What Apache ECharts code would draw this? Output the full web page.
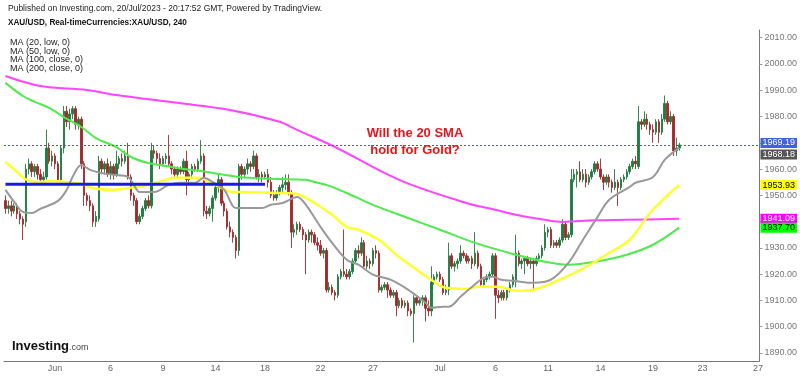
<!DOCTYPE html>
<html>
<head>
<meta charset="utf-8">
<script src="https://cdn.jsdelivr.net/npm/echarts@6/dist/echarts.min.js"></script>
<style>
html,body{margin:0;padding:0;background:#fff;}
#main{width:800px;height:376px;}
</style>
</head>
<body>
<div id="main"></div>
<script>
// trading days shown, 6 four-hour bars per day
const days = ['May 29','May 30','May 31','Jun 1','Jun 2','Jun 5','Jun 6','Jun 7','Jun 8','Jun 9',
  'Jun 12','Jun 13','Jun 14','Jun 15','Jun 16','Jun 19','Jun 20','Jun 21','Jun 22','Jun 23',
  'Jun 26','Jun 27','Jun 28','Jun 29','Jun 30','Jul 3','Jul 4','Jul 5','Jul 6','Jul 7',
  'Jul 10','Jul 11','Jul 12','Jul 13','Jul 14','Jul 17','Jul 18','Jul 19','Jul 20','Jul 21',
  'Jul 24','Jul 25','Jul 26','Jul 27'];
const sessions = ['00','04','08','12','16','20'];
const barCount = 259;

// bar index -> tick text on the time axis
const xTicks = [[17,'Jun'],[36,'6'],[54,'9'],[72,'14'],[89,'18'],[108,'22'],[126,'27'],
  [149,'Jul'],[168,'6'],[186,'11'],[204,'14'],[222,'19'],[239,'23'],[258,'27']];
const yTicks = [1890,1900,1910,1920,1930,1940,1950,1960,1970,1980,1990,2000,2010];

// XAU/USD 4h candles: [open, close, low, high]
const ohlc = [
  [1948,1945,1943,1950],[1945,1946,1943,1948],[1946,1944,1942,1948],[1944,1946,1943,1947],
  [1946,1943,1941,1947],[1943,1941,1939,1944],[1941,1939,1933,1942],[1940,1960,1938,1962],
  [1960,1962,1958,1964],[1962,1959,1957,1963],[1959,1961,1957,1962],[1961,1958,1956,1962],
  [1958,1956,1955,1960],[1956,1957,1955,1959],[1957,1968,1956,1975],[1968,1963,1962,1970],
  [1963,1965,1961,1967],[1965,1962,1960,1966],[1962,1956,1955,1963],[1956,1968,1955,1969],
  [1968,1982,1966,1984],[1982,1978,1976,1984],[1978,1981,1975,1983],[1981,1983,1979,1984],
  [1983,1977,1975,1984],[1977,1979,1975,1980],[1979,1962,1960,1980],[1962,1950,1946,1963],
  [1950,1948,1946,1951],[1948,1946,1944,1950],[1946,1940,1938,1947],[1940,1942,1938,1944],
  [1941,1963,1940,1965],[1963,1960,1958,1964],[1960,1962,1958,1963],[1962,1958,1957,1964],
  [1958,1961,1956,1963],[1961,1958,1956,1962],[1958,1962,1957,1967],[1962,1964,1960,1965],
  [1964,1963,1961,1966],[1963,1965,1962,1967],[1965,1957,1956,1970],[1957,1950,1948,1958],
  [1950,1948,1946,1951],[1948,1940,1939,1949],[1940,1942,1939,1943],[1942,1945,1941,1946],
  [1945,1948,1944,1949],[1948,1946,1945,1950],[1946,1967,1945,1970],[1967,1966,1964,1969],
  [1966,1964,1962,1967],[1964,1962,1960,1966],[1962,1964,1961,1965],[1964,1965,1962,1966],
  [1965,1962,1961,1973],[1962,1960,1958,1963],[1960,1958,1957,1961],[1958,1960,1957,1961],
  [1960,1959,1958,1961],[1959,1963,1958,1964],[1963,1956,1950,1967],[1956,1958,1954,1959],
  [1958,1961,1957,1962],[1961,1960,1959,1962],[1960,1963,1959,1964],[1963,1965,1962,1971],
  [1965,1944,1942,1966],[1944,1943,1941,1946],[1943,1945,1942,1946],[1945,1949,1940,1950],
  [1949,1953,1948,1954],[1953,1956,1951,1958],[1956,1947,1946,1957],[1947,1944,1942,1948],
  [1944,1938,1937,1945],[1938,1936,1934,1940],[1936,1934,1932,1937],[1934,1929,1926,1935],
  [1929,1961,1927,1962],[1961,1958,1956,1962],[1958,1960,1957,1961],[1960,1962,1958,1964],
  [1962,1961,1959,1963],[1961,1965,1960,1967],[1965,1957,1956,1966],[1957,1958,1955,1960],
  [1958,1957,1955,1959],[1957,1958,1956,1959],[1958,1955,1953,1960],[1955,1950,1949,1957],
  [1950,1949,1948,1952],[1949,1951,1948,1952],[1951,1953,1950,1954],[1953,1954,1951,1957],
  [1954,1955,1952,1958],[1955,1951,1950,1958],[1951,1936,1930,1952],[1936,1937,1934,1939],
  [1937,1939,1935,1940],[1939,1937,1936,1940],[1937,1935,1933,1938],[1935,1933,1920,1936],
  [1933,1936,1932,1937],[1936,1935,1932,1937],[1935,1932,1931,1936],[1932,1931,1929,1934],
  [1931,1928,1927,1933],[1928,1929,1926,1930],[1929,1914,1913,1930],[1914,1915,1913,1917],
  [1915,1913,1912,1916],[1913,1912,1910,1914],[1912,1919,1911,1920],[1919,1921,1918,1922],
  [1921,1920,1919,1937],[1920,1919,1918,1922],[1919,1921,1918,1922],[1921,1925,1920,1926],
  [1925,1929,1924,1930],[1929,1928,1926,1931],[1928,1932,1927,1934],[1932,1923,1922,1933],
  [1923,1925,1922,1927],[1925,1924,1922,1926],[1924,1929,1923,1930],[1929,1928,1926,1931],
  [1928,1914,1913,1929],[1914,1915,1913,1916],[1915,1916,1914,1917],[1916,1914,1911,1917],
  [1914,1912,1911,1915],[1912,1913,1911,1914],[1913,1908,1904,1914],[1908,1910,1907,1911],
  [1910,1908,1907,1911],[1908,1909,1907,1910],[1909,1906,1904,1910],[1906,1905,1904,1907],
  [1905,1911,1894,1912],[1911,1909,1908,1912],[1909,1910,1908,1911],[1910,1911,1908,1912],
  [1911,1907,1902,1912],[1907,1906,1904,1910],[1906,1917,1904,1923],[1917,1919,1916,1920],
  [1919,1920,1918,1921],[1920,1918,1917,1921],[1918,1913,1912,1919],[1913,1914,1912,1916],
  [1914,1927,1912,1932],[1927,1923,1922,1928],[1923,1924,1921,1925],[1924,1925,1922,1926],
  [1925,1928,1924,1931],[1928,1927,1926,1929],[1927,1925,1924,1928],[1925,1926,1924,1927],
  [1926,1924,1922,1927],[1924,1928,1923,1936],[1928,1923,1922,1929],[1923,1916,1915,1924],
  [1916,1918,1915,1919],[1918,1919,1917,1920],[1919,1920,1918,1921],[1920,1927,1919,1928],
  [1927,1912,1903,1928],[1912,1911,1909,1914],[1911,1913,1910,1914],[1913,1911,1910,1914],
  [1911,1914,1910,1915],[1914,1916,1913,1917],[1916,1919,1915,1920],[1917,1928,1915,1935],
  [1928,1924,1923,1929],[1924,1925,1922,1926],[1925,1926,1920,1927],[1926,1924,1923,1927],
  [1924,1925,1922,1926],[1925,1924,1914,1926],[1924,1926,1923,1927],[1926,1927,1925,1928],
  [1927,1930,1926,1931],[1930,1936,1929,1939],[1936,1937,1934,1938],[1937,1931,1930,1938],
  [1931,1932,1930,1933],[1932,1931,1930,1933],[1931,1933,1930,1934],[1933,1939,1932,1941],
  [1939,1934,1933,1940],[1934,1935,1933,1936],[1935,1956,1934,1960],[1956,1958,1955,1960],
  [1958,1959,1953,1960],[1959,1956,1955,1963],[1956,1958,1955,1960],[1958,1955,1953,1960],
  [1955,1957,1954,1958],[1957,1959,1956,1960],[1959,1962,1958,1963],[1962,1960,1959,1963],
  [1960,1957,1956,1964],[1957,1955,1952,1958],[1955,1957,1954,1958],[1957,1955,1953,1958],
  [1955,1953,1951,1956],[1953,1955,1952,1960],[1955,1953,1946,1956],[1953,1956,1952,1957],
  [1956,1957,1955,1958],[1957,1959,1956,1960],[1959,1961,1958,1962],[1961,1963,1960,1964],
  [1963,1962,1960,1965],[1961,1978,1960,1984],[1978,1977,1975,1979],[1977,1979,1976,1982],
  [1979,1977,1975,1981],[1977,1975,1973,1978],[1975,1974,1970,1977],[1974,1978,1973,1979],
  [1978,1974,1970,1979],[1974,1979,1973,1981],[1979,1985,1978,1988],[1985,1978,1977,1986],
  [1978,1980,1977,1982],[1980,1967,1965,1981],[1967,1968,1965,1972],[1968,1969.19,1967,1970]
];

// moving averages: [bar index, value]
const ma20 = [[0,1952.1],[3,1947.5],[6,1943.7],[9,1943.3],[12,1944.9],[18,1947.9],[21,1952.1],
  [23,1957],[26,1961.6],[29,1959.7],[33,1958.5],[37,1957.8],[42,1957],[44,1954],[46,1951.3],
  [51,1951.3],[56,1954],[60,1954.8],[65,1954.8],[68,1956.7],[71,1955.1],[75,1952.1],[79,1945.2],
  [82,1945.2],[88,1945.2],[91,1946.4],[95,1947.1],[100,1949.4],[103,1946.4],[108,1938],
  [112,1931.9],[117,1925.5],[121,1923.6],[126,1919.8],[132,1917.9],[138,1914.1],[144,1909.1],
  [146,1907.2],[150,1907.6],[152,1907.6],[156,1911.4],[160,1915.2],[164,1918.6],[167,1919],
  [170,1917.9],[174,1917.5],[181,1916.7],[187,1917.9],[193,1924.3],[198,1933.1],[203,1941.8],
  [207,1948.3],[214,1953.2],[216,1954.8],[222,1957],[226,1963.5],[231,1968.18]];
const ma50 = [[0,1962.7],[4,1958.9],[7,1956.1],[12,1955.1],[16,1955.5],[21,1955.1],[26,1954.4],
  [30,1952.8],[36,1952.1],[42,1952.7],[49,1954],[55,1955.9],[58,1956.7],[66,1956.7],[72,1954],
  [78,1951.3],[84,1951.3],[92,1950.9],[98,1950.8],[101,1950.2],[106,1947.1],[112,1942.6],
  [117,1938],[121,1936.9],[128,1933.1],[134,1927.4],[140,1922.5],[146,1917.9],[151,1914.8],
  [158,1914.4],[162,1915.2],[169,1915.2],[175,1913.7],[181,1914.1],[190,1917.9],[199,1922.8],
  [207,1928.1],[214,1933.1],[221,1943.3],[226,1949],[231,1953.93]];
const ma100 = [[0,1992.8],[6,1987.8],[10,1985.6],[15,1983.3],[20,1979.8],[26,1976],[31,1971.8],
  [38,1968.4],[43,1964.6],[49,1962.3],[55,1961.2],[59,1960.4],[69,1958.9],[80,1957],[91,1956.3],
  [103,1955.9],[106,1955.1],[111,1953.6],[117,1950.9],[126,1946.4],[138,1941.4],[149,1936.9],
  [161,1931.9],[175,1927.4],[185,1924.7],[193,1923.6],[202,1924.7],[213,1927.4],[222,1931.2],
  [231,1937.7]];
const ma200 = [[0,1995.4],[12,1991.6],[28,1990.1],[38,1988.2],[59,1985.2],[77,1982.5],[94,1978],
  [100,1974.9],[113,1968.4],[135,1955.9],[158,1947.1],[168,1944.5],[175,1942.6],[185,1940.7],
  [191,1939.9],[202,1940.5],[213,1940.7],[231,1941.09]];

// drawn level: support line across early June
const supportLevel = 1954.2;
const supportFrom = 0, supportTo = 89;

const categories = [];
days.forEach(d => sessions.forEach(s => categories.push(d + ' ' + s)));
categories.length = barCount;

const tickText = {};
xTicks.forEach(t => { tickText[t[0]] = t[1]; });

function spread(points) {
  const arr = new Array(barCount).fill(null);
  points.forEach(p => { arr[p[0]] = p[1]; });
  return arr;
}
function lastOf(points) { return points[points.length - 1][1]; }
const lastClose = ohlc[ohlc.length - 1][1];

const font = '"Liberation Sans", Arial, sans-serif';

function tag(value, bg, fg, shift) {
  return {
    symbol: 'none', silent: true, animation: false,
    lineStyle: { color: 'rgba(0,0,0,0)', width: 0 },
    label: {
      position: 'end', distance: 1, fontSize: 9, fontFamily: font,
      color: fg, backgroundColor: bg, padding: [1, 2, 0, 2], offset: [0, shift || 0],
      formatter: p => (+p.value).toFixed(2)
    },
    data: [{ yAxis: value }]
  };
}

function maSeries(points, color, width, tagBg, tagFg, z, shift) {
  return {
    type: 'line', data: spread(points), connectNulls: true, smooth: 0.35,
    symbol: 'none', z: z, animation: false,
    lineStyle: { color: color, width: width },
    markLine: tag(lastOf(points), tagBg, tagFg, shift)
  };
}

const supportData = spread([[supportFrom, supportLevel], [supportTo, supportLevel]]);

let myChart = echarts.init(document.getElementById('main'));
myChart.setOption({
  animation: false,
  grid: { left: 4, right: 33, top: 30, bottom: 15 },
  xAxis: {
    type: 'category', data: categories, boundaryGap: true,
    axisLine: { lineStyle: { color: '#777' } },
    axisTick: { show: false },
    axisLabel: {
      interval: idx => tickText[idx] !== undefined,
      formatter: (v, idx) => tickText[idx],
      fontSize: 9, color: '#666', margin: 3, fontFamily: font
    },
    splitLine: { show: false }
  },
  yAxis: {
    type: 'value', position: 'right', min: 1886.96, max: 2012.93,
    axisLine: { show: true, lineStyle: { color: '#777' } },
    axisTick: { show: true, length: 3, customValues: yTicks, lineStyle: { color: '#999' } },
    axisLabel: {
      customValues: yTicks, formatter: v => v.toFixed(2),
      fontSize: 9, color: '#777', margin: 5, fontFamily: font
    },
    splitLine: { show: false }
  },
  series: [
    {
      type: 'candlestick', data: ohlc, barWidth: 2, z: 2,
      itemStyle: {
        color: '#1f7b40', color0: '#a2282a',
        borderColor: '#1f7b40', borderColor0: '#a2282a', borderWidth: 0.9
      }
    },
    maSeries(ma200, '#ff44ff', 2, '#ff00ff', '#fff', 3),
    maSeries(ma100, '#4eea4e', 2, '#00ff00', '#000', 3),
    maSeries(ma50, '#ffff30', 2.5, '#ffff00', '#000', 4),
    maSeries(ma20, '#999999', 2, '#555555', '#fff', 5, 7),
    {
      type: 'line', data: supportData, connectNulls: true, symbol: 'none', z: 6,
      lineStyle: { color: '#1a1ae6', width: 3 },
      markLine: {
        symbol: 'none', silent: true, animation: false,
        lineStyle: { type: [2, 2], color: '#2c5cff', width: 1 },
        label: {
          position: 'end', distance: 1, fontSize: 9, fontFamily: font,
          color: '#fff', backgroundColor: '#3d63e0', padding: [1, 2, 0, 2], offset: [0, -2],
          formatter: p => (+p.value).toFixed(2)
        },
        data: [{ yAxis: lastClose }]
      }
    }
  ],
  graphic: [
    { type: 'text', left: 8, top: 4, style: { text: 'Published on Investing.com, 20/Jul/2023 - 20:17:52 GMT, Powered by TradingView.', font: '8.5px ' + font, fill: '#222' } },
    { type: 'text', left: 8, top: 19, style: { text: 'XAU/USD, Real-timeCurrencies:XAU/USD, 240', font: 'bold 8.2px ' + font, fill: '#111' } },
    { type: 'text', left: 10, top: 38, style: { text: 'MA (20, low, 0)\nMA (50, low, 0)\nMA (100, close, 0)\nMA (200, close, 0)', font: '9px ' + font, fill: '#222', lineHeight: 8.7 } },
    { type: 'text', x: 415, y: 125, style: { text: 'Will the 20 SMA\nhold for Gold?', font: 'bold 13px ' + font, fill: '#e8141c', align: 'center', lineHeight: 17 } },
    { type: 'text', left: 12, top: 340, style: { text: '{a|Investing}{b|.com}', rich: { a: { font: 'bold 13px ' + font, fill: '#111' }, b: { font: '9px ' + font, fill: '#444', padding: [3, 0, 0, 0] } } } }
  ]
});
</script>
</body>
</html>
